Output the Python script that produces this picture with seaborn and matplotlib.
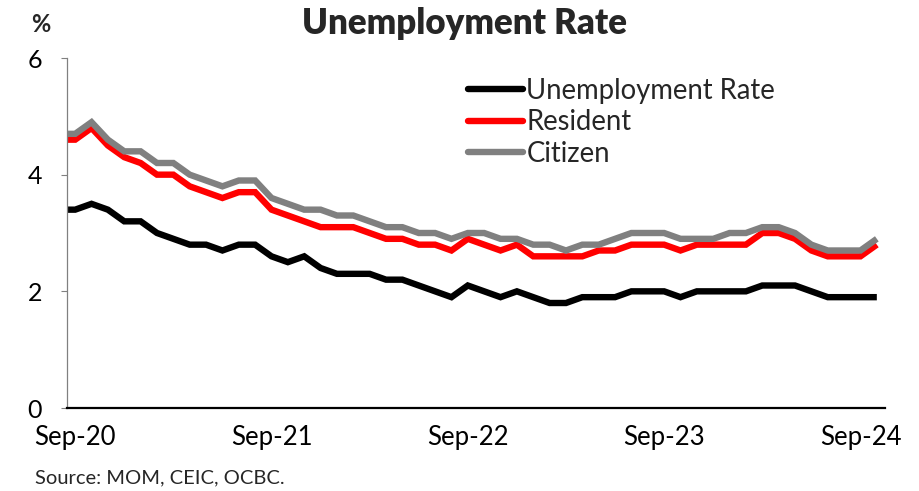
import numpy as np
import pandas as pd
import matplotlib
matplotlib.use("Agg")
import matplotlib.pyplot as plt
import seaborn as sns

# Monthly data, Aug-20 .. Oct-24 (Aug-20 sits just outside the visible range)
months = pd.date_range("2020-08-01", "2024-10-01", freq="MS")

unemployment = [3.4,
    3.4, 3.5, 3.4, 3.2, 3.2, 3.0, 2.9, 2.8, 2.8, 2.7, 2.8, 2.8,
    2.6, 2.5, 2.6, 2.4, 2.3, 2.3, 2.3, 2.2, 2.2, 2.1, 2.0, 1.9,
    2.1, 2.0, 1.9, 2.0, 1.9, 1.8, 1.8, 1.9, 1.9, 1.9, 2.0, 2.0,
    2.0, 1.9, 2.0, 2.0, 2.0, 2.0, 2.1, 2.1, 2.1, 2.0, 1.9, 1.9,
    1.9, 1.9]
resident = [4.6,
    4.6, 4.8, 4.5, 4.3, 4.2, 4.0, 4.0, 3.8, 3.7, 3.6, 3.7, 3.7,
    3.4, 3.3, 3.2, 3.1, 3.1, 3.1, 3.0, 2.9, 2.9, 2.8, 2.8, 2.7,
    2.9, 2.8, 2.7, 2.8, 2.6, 2.6, 2.6, 2.6, 2.7, 2.7, 2.8, 2.8,
    2.8, 2.7, 2.8, 2.8, 2.8, 2.8, 3.0, 3.0, 2.9, 2.7, 2.6, 2.6,
    2.6, 2.8]
citizen = [4.7,
    4.7, 4.9, 4.6, 4.4, 4.4, 4.2, 4.2, 4.0, 3.9, 3.8, 3.9, 3.9,
    3.6, 3.5, 3.4, 3.4, 3.3, 3.3, 3.2, 3.1, 3.1, 3.0, 3.0, 2.9,
    3.0, 3.0, 2.9, 2.9, 2.8, 2.8, 2.7, 2.8, 2.8, 2.9, 3.0, 3.0,
    3.0, 2.9, 2.9, 2.9, 3.0, 3.0, 3.1, 3.1, 3.0, 2.8, 2.7, 2.7,
    2.7, 2.9]

series_names = ["Unemployment Rate", "Resident", "Citizen"]
series_colors = ["#000000", "#FF0000", "#808080"]
yticks = [0, 2, 4, 6]
xtick_months = ["2020-09", "2021-09", "2022-09", "2023-09", "2024-09"]

pos = np.arange(len(months)) - 1  # Sep-20 -> 0
df = pd.DataFrame({
    "pos": np.tile(pos, 3),
    "value": unemployment + resident + citizen,
    "series": np.repeat(series_names, len(months)),
})

sns.set_theme(style="white")
plt.rcParams["font.family"] = ["Lato", "DejaVu Sans"]

fig = plt.figure(figsize=(9.2, 4.91), dpi=100)
ax = fig.add_axes([67 / 920, 1 - 408 / 491, (885 - 67) / 920, (408 - 58) / 491])

sns.lineplot(data=df, x="pos", y="value", hue="series", hue_order=series_names,
             palette=series_colors, linewidth=4.6, ax=ax, legend=True)
for ln in ax.lines:
    ln.set_solid_joinstyle("miter")
    ln.set_solid_capstyle("butt")

ax.set_xlim(-0.5, 49.5)
ax.set_ylim(0, 6)
ax.set_yticks(yticks)
ax.set_yticklabels([str(t) for t in yticks], fontsize=18)
tick_pos = [int(np.where(months == pd.Timestamp(m))[0][0]) - 1 for m in xtick_months]
ax.set_xticks(tick_pos)
ax.set_xticklabels([pd.Timestamp(m).strftime("%b-%y") for m in xtick_months], fontsize=18.5)
ax.tick_params(axis="x", length=0, pad=12, colors="black")
ax.tick_params(axis="y", length=4, width=0.8, color="#808080", pad=14, colors="black", direction="out", left=True)
ax.set_xlabel("")
ax.set_ylabel("")

for s in ["top", "right"]:
    ax.spines[s].set_visible(False)
ax.spines["left"].set_color("#808080")
ax.spines["left"].set_linewidth(0.9)
ax.spines["bottom"].set_color("black")
ax.spines["bottom"].set_linewidth(1.6)

leg = ax.legend(loc="upper left", bbox_to_anchor=(457 / 920, 1 - 67 / 491),
                bbox_transform=fig.transFigure, frameon=False, fontsize=19.8,
                handlelength=2.0, handletextpad=0.12, labelspacing=0.2, borderaxespad=0)
for h in leg.get_lines():
    h.set_linewidth(4.6)
    h.set_solid_capstyle("round")

fig.text(465 / 920, 1 - 24 / 491, "Unemployment Rate", ha="center", va="center",
         fontsize=25, fontweight="heavy")
fig.text(41 / 920, 1 - 24 / 491, "%", ha="center", va="center", fontsize=17, fontweight="bold")
fig.text(35 / 920, 1 - 478 / 491, "Source: MOM, CEIC, OCBC.", ha="left", va="center", fontsize=14.5)

fig.savefig("out.png", dpi=100)
